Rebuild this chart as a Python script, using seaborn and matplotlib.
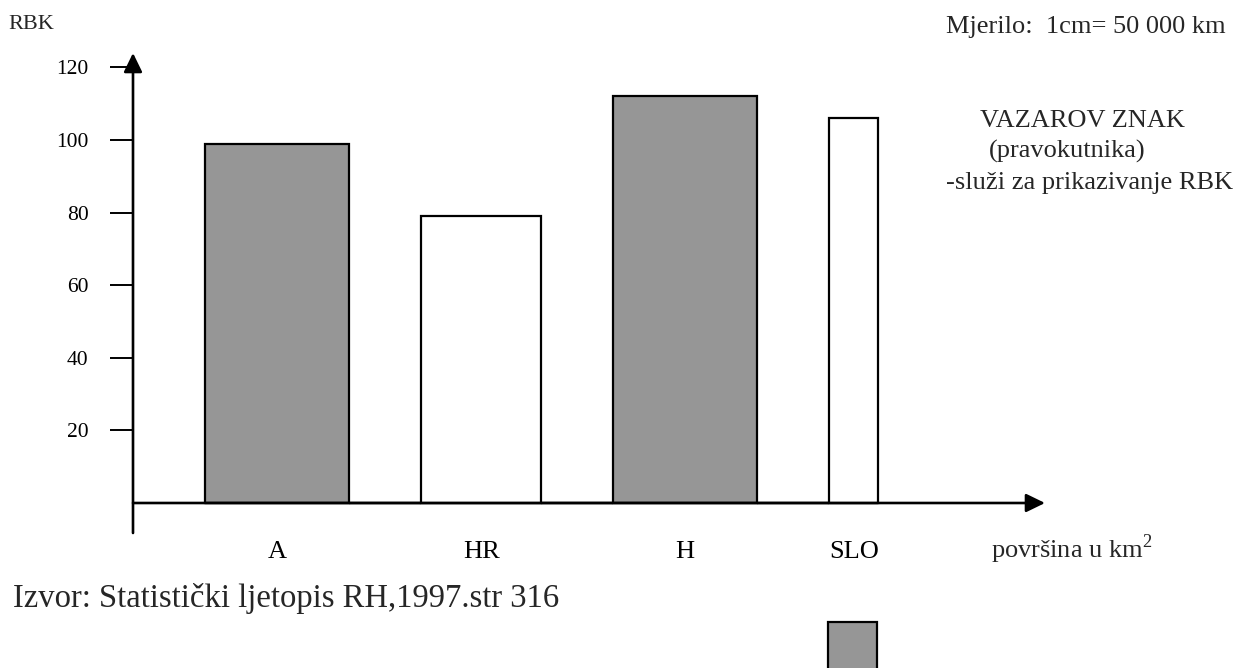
import numpy as np
import pandas as pd
import matplotlib
matplotlib.use("Agg")
import matplotlib.pyplot as plt
import seaborn as sns
from matplotlib.patches import Rectangle

# Varzarov znak: visina = RBK, širina = površina države
drzave = ["A", "HR", "H", "SLO"]
rbk = [99, 79, 112, 106]
sirina = [2.0, 1.67, 2.0, 0.68]
skupina = ["siva", "bijela", "siva", "bijela"]
y_oznake = [20, 40, 60, 80, 100, 120]

sns.set_style("white")
plt.rcParams["font.family"] = ["Liberation Serif", "DejaVu Serif"]
plt.rcParams["mathtext.fontset"] = "custom"
plt.rcParams["mathtext.rm"] = "Liberation Serif"

W, H = 1237, 668
fig = plt.figure(figsize=(W / 100, H / 100), dpi=100)
fig.patch.set_facecolor("white")

# axes box: y axis at x=133 px, arrow tips at x=1045 and y=53, lower end of y axis at y=533
x0, x1, yb, yt = 133, 1045, 533, 53
ax = fig.add_axes([x0 / W, 1 - yb / H, (x1 - x0) / W, (yb - yt) / H])

razmak = 1.0
sir = np.array(sirina)
lijevi = razmak + np.concatenate([[0.0], np.cumsum(sir + razmak)[:-1]])
desni = lijevi + sir
rubovi = sorted(float(v) for v in np.concatenate([lijevi, desni]))
centri = (lijevi + desni) / 2

df = pd.DataFrame({"drzava": drzave, "centar": centri, "rbk": rbk, "skupina": skupina})

sns.histplot(data=df, x="centar", weights="rbk", hue="skupina", bins=rubovi,
             hue_order=["bijela", "siva"],
             palette={"siva": "#969696", "bijela": "white"},
             multiple="layer", alpha=1, edgecolor="black", linewidth=1.6,
             legend=False, ax=ax)

px_per_unit = 3.63
ax.set_ylim(-(yb - 503) / px_per_unit, (503 - yt) / px_per_unit)
ax.set_xlim(0, (x1 - x0) / 72.0)
ax.set_xlabel("")
ax.set_ylabel("")
for s in ax.spines.values():
    s.set_visible(False)

ax.set_yticks(y_oznake)
ax.set_yticklabels([str(v) for v in y_oznake])
ax.tick_params(axis="y", direction="out", length=16.5, width=1.4, pad=15.5,
               labelsize=15.5, left=True, colors="black")
ax.set_xticks(centri)
ax.set_xticklabels(drzave)
ax.tick_params(axis="x", length=0, pad=6, labelsize=19, colors="black")

# coordinate axes with arrowheads
strelica = dict(arrowstyle="-|>,head_length=1.15,head_width=0.56", lw=1.9,
                color="black", shrinkA=0, shrinkB=0, mutation_scale=10)
ax.annotate("", xy=(1, 0), xycoords=("axes fraction", "data"),
            xytext=(0, 0), textcoords=("axes fraction", "data"), arrowprops=strelica)
ax.annotate("", xy=(0, 1), xycoords="axes fraction",
            xytext=(0, 0), textcoords="axes fraction", arrowprops=strelica)


def ftxt(x, y, s, **kw):
    fig.text(x / W, 1 - y / H, s, va="baseline", **kw)


ftxt(8, 29, "RBK", fontsize=16)
ftxt(946, 33, "Mjerilo:  1cm= 50 000 km", fontsize=19)
ftxt(980, 127, "VAZAROV ZNAK", fontsize=19)
ftxt(989, 158, "(pravokutnika)", fontsize=19)
ftxt(946, 189, "-služi za prikazivanje RBK", fontsize=19)
ftxt(991, 558, r"površina u km$^{2}$", fontsize=19)
ftxt(13, 607, "Izvor: Statistički ljetopis RH,1997.str 316", fontsize=23.5)

# legend key for the grey rectangles
fig.add_artist(Rectangle((828 / W, -0.05), 49 / W, (H - 622) / H + 0.05,
                         transform=fig.transFigure, facecolor="#969696",
                         edgecolor="black", lw=1.6))

fig.savefig("out.png", dpi=100, facecolor="white")
